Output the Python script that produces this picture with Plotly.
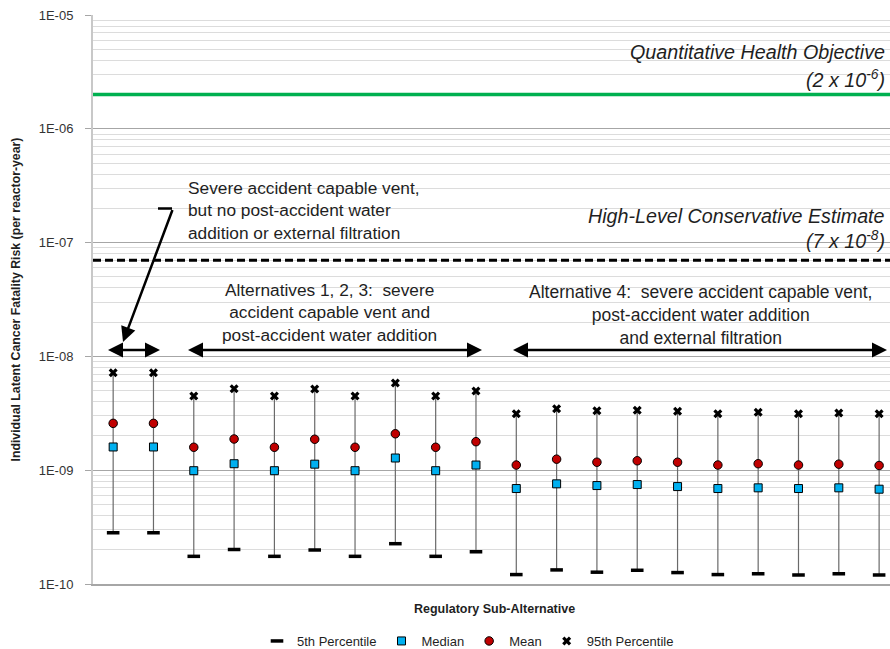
import math
import plotly.graph_objects as go

# ---------------- data ----------------
categories = list(range(20))  # regulatory sub-alternatives (unlabelled)
p5 = [2.82e-10, 2.82e-10, 1.75e-10, 2.01e-10, 1.75e-10, 1.99e-10, 1.75e-10, 2.26e-10, 1.75e-10, 1.92e-10,
      1.21e-10, 1.33e-10, 1.27e-10, 1.32e-10, 1.26e-10, 1.21e-10, 1.23e-10, 1.20e-10, 1.23e-10, 1.20e-10]
median = [1.60e-9, 1.60e-9, 0.99e-9, 1.14e-9, 0.99e-9, 1.13e-9, 0.99e-9, 1.28e-9, 0.99e-9, 1.11e-9,
          6.9e-10, 7.59e-10, 7.33e-10, 7.48e-10, 7.18e-10, 6.9e-10, 7.0e-10, 6.9e-10, 7.0e-10, 6.81e-10]
mean = [2.58e-9, 2.58e-9, 1.59e-9, 1.88e-9, 1.59e-9, 1.87e-9, 1.59e-9, 2.09e-9, 1.59e-9, 1.78e-9,
        1.11e-9, 1.25e-9, 1.175e-9, 1.21e-9, 1.175e-9, 1.11e-9, 1.14e-9, 1.11e-9, 1.13e-9, 1.10e-9]
p95 = [7.18e-9, 7.18e-9, 4.49e-9, 5.2e-9, 4.49e-9, 5.17e-9, 4.49e-9, 5.83e-9, 4.49e-9, 4.96e-9,
       3.14e-9, 3.47e-9, 3.33e-9, 3.36e-9, 3.29e-9, 3.14e-9, 3.23e-9, 3.14e-9, 3.18e-9, 3.14e-9]

qho_value = 2e-6
hlce_value = 7e-8
ytick_vals = [1e-10, 1e-9, 1e-8, 1e-7, 1e-6, 1e-5]
ytick_text = ["1E-10", "1E-09", "1E-08", "1E-07", "1E-06", "1E-05"]
series_names = ["5th Percentile", "Median", "Mean", "95th Percentile"]

text_note1 = "Severe accident capable vent,<br>but no post-accident water<br>addition or external filtration"
text_alt123 = "Alternatives 1, 2, 3:  severe<br>accident capable vent and<br>post-accident water addition"
text_alt4 = "Alternative 4:  severe accident capable vent,<br>post-accident water addition<br>and external filtration"
text_qho = "Quantitative Health Objective"
text_qho_val = "(2 x 10<sup>-6</sup>)"
text_hlce = "High-Level Conservative Estimate"
text_hlce_val = "(7 x 10<sup>-8</sup>)"
y_title = "Individual Latent Cancer Fatality Risk (per reactor-year)"
x_title = "Regulatory Sub-Alternative"

FONT = "Liberation Sans"
TXT = "#1f1f1f"
XMIN, XMAX = -0.5, 19.27

W, H = 890, 649
PAGE_L, PAGE_T, PAGE_B = 93, 15, 584
L, R, T, B = PAGE_L, 0, PAGE_T, H - PAGE_B
PW, PH = W - L - R, H - T - B

fig = go.Figure()

# vertical whiskers 5th -> 95th
wx, wy = [], []
for c, lo, hi in zip(categories, p5, p95):
    wx += [c, c, None]
    wy += [lo, hi, None]
fig.add_trace(go.Scatter(x=wx, y=wy, mode="lines", line=dict(color="#6a6a6a", width=1.2),
                         showlegend=False, hoverinfo="skip"))

# reference lines
fig.add_trace(go.Scatter(x=[XMIN, XMAX], y=[qho_value, qho_value], mode="lines",
                         line=dict(color="#00B050", width=3.5), showlegend=False, hoverinfo="skip"))
fig.add_trace(go.Scatter(x=[XMIN, XMAX], y=[hlce_value, hlce_value], mode="lines",
                         line=dict(color="black", width=3, dash="8px,4px"), showlegend=False, hoverinfo="skip"))

fig.add_trace(go.Scatter(x=categories, y=p5, mode="markers", name=series_names[0],
                         marker=dict(symbol="line-ew", size=9, line=dict(color="black", width=3.5))))
fig.add_trace(go.Scatter(x=categories, y=median, mode="markers", name=series_names[1],
                         marker=dict(symbol="square", size=8, color="#00B0F0", line=dict(color="black", width=1))))
fig.add_trace(go.Scatter(x=categories, y=mean, mode="markers", name=series_names[2],
                         marker=dict(symbol="circle", size=8.5, color="#C00000", line=dict(color="black", width=1))))
fig.add_trace(go.Scatter(x=categories, y=p95, mode="markers", name=series_names[3],
                         marker=dict(symbol="x", size=8, color="black", line=dict(width=0))))

minor_vals = [d * 10.0 ** e for e in range(-10, -5) for d in range(2, 10)]


def px_to_x(px):
    return XMIN + (px - PAGE_L) / PW * (XMAX - XMIN)


def py_to_logy(py):
    return -5 - (py - PAGE_T) / PH * 5


def paper_x(px):
    return (px - PAGE_L) / PW


def paper_y(py):
    return (PAGE_B - py) / PH


annotations = []
annotations.append(dict(x=px_to_x(186), y=py_to_logy(210), xref="x", yref="y", text=text_note1,
                        showarrow=False, xanchor="left", yanchor="middle", align="left",
                        font=dict(family=FONT, size=17.3, color=TXT)))
annotations.append(dict(x=px_to_x(329), y=py_to_logy(312), xref="x", yref="y", text=text_alt123,
                        showarrow=False, xanchor="center", yanchor="middle", align="center",
                        font=dict(family=FONT, size=17.3, color=TXT)))
annotations.append(dict(x=px_to_x(700), y=py_to_logy(314.5), xref="x", yref="y", text=text_alt4,
                        showarrow=False, xanchor="center", yanchor="middle", align="center",
                        font=dict(family=FONT, size=17.5, color=TXT)))
for txt, py in [(text_qho, 52), (text_qho_val, 79), (text_hlce, 216), (text_hlce_val, 240)]:
    annotations.append(dict(x=px_to_x(887), y=py_to_logy(py), xref="x", yref="y", text="<i>" + txt + "</i>",
                            showarrow=False, xanchor="right", yanchor="middle",
                            font=dict(family=FONT, size=19.7, color=TXT)))

# double arrows over groups
for x0, x1 in [(106.5, 160), (186.5, 482), (511.5, 887)]:
    annotations.append(dict(x=px_to_x(x1), y=py_to_logy(350), ax=px_to_x(x0), ay=py_to_logy(350),
                            xref="x", yref="y", axref="x", ayref="y", text="", showarrow=True,
                            arrowhead=2, startarrowhead=2, arrowside="end+start", arrowsize=1.2,
                            startarrowsize=1.2, arrowwidth=2.5, arrowcolor="black", standoff=0, startstandoff=0))
# leader line
annotations.append(dict(x=px_to_x(158), y=py_to_logy(208.5), ax=px_to_x(173.5), ay=py_to_logy(208.5),
                        xref="x", yref="y", axref="x", ayref="y", text="", showarrow=True,
                        arrowhead=0, arrowwidth=2.5, arrowcolor="black", standoff=0))
annotations.append(dict(x=px_to_x(123), y=py_to_logy(342), ax=px_to_x(173), ay=py_to_logy(208.5),
                        xref="x", yref="y", axref="x", ayref="y", text="", showarrow=True,
                        arrowhead=2, arrowsize=1.2, arrowwidth=2.5, arrowcolor="black", standoff=0))

# axis titles
annotations.append(dict(x=paper_x(15), y=0.5, xref="paper", yref="paper", text="<b>" + y_title + "</b>",
                        textangle=-90, showarrow=False, xanchor="center", yanchor="middle",
                        font=dict(family=FONT, size=12.3, color=TXT)))
annotations.append(dict(x=paper_x(494), y=paper_y(609), xref="paper", yref="paper", text="<b>" + x_title + "</b>",
                        showarrow=False, xanchor="center", yanchor="middle",
                        font=dict(family=FONT, size=12.5, color=TXT)))

fig.update_layout(
    width=W, height=H,
    margin=dict(l=L, r=R, t=T, b=B, autoexpand=False),
    plot_bgcolor="white", paper_bgcolor="white",
    font=dict(family=FONT, size=13, color=TXT),
    showlegend=True,
    legend=dict(orientation="h", x=paper_x(468), xanchor="center", y=paper_y(641), yanchor="middle",
                font=dict(family=FONT, size=13, color=TXT), itemwidth=30, tracegroupgap=0,
                bgcolor="rgba(0,0,0,0)"),
    annotations=annotations,
    hovermode=False,
)
fig.update_xaxes(range=[XMIN, XMAX], showticklabels=False, showgrid=False, zeroline=False,
                 showline=True, linecolor="#A6A6A6", linewidth=1.5, ticks="", fixedrange=True)
fig.update_yaxes(type="log", range=[-10, -5], tickmode="array", tickvals=ytick_vals, ticktext=ytick_text,
                 showgrid=True, gridcolor="#A6A6A6", gridwidth=1, zeroline=False,
                 showline=True, linecolor="#C8C8C8", linewidth=2, ticks="outside", ticklen=6,
                 tickcolor="#A6A6A6", tickfont=dict(family=FONT, size=13, color="#333333"),
                 ticklabelstandoff=9, ticklabeloverflow="allow", fixedrange=True,
                 minor=dict(tickmode="array", tickvals=minor_vals, showgrid=True, gridcolor="#DCDCDC",
                            gridwidth=1, ticks=""))

# remove the default 8px page margin so the 890x649 figure fills the window exactly
fig.write_html("out.html", config={"displayModeBar": False},
               post_script="document.body.style.margin='0';document.body.style.overflow='hidden';")
